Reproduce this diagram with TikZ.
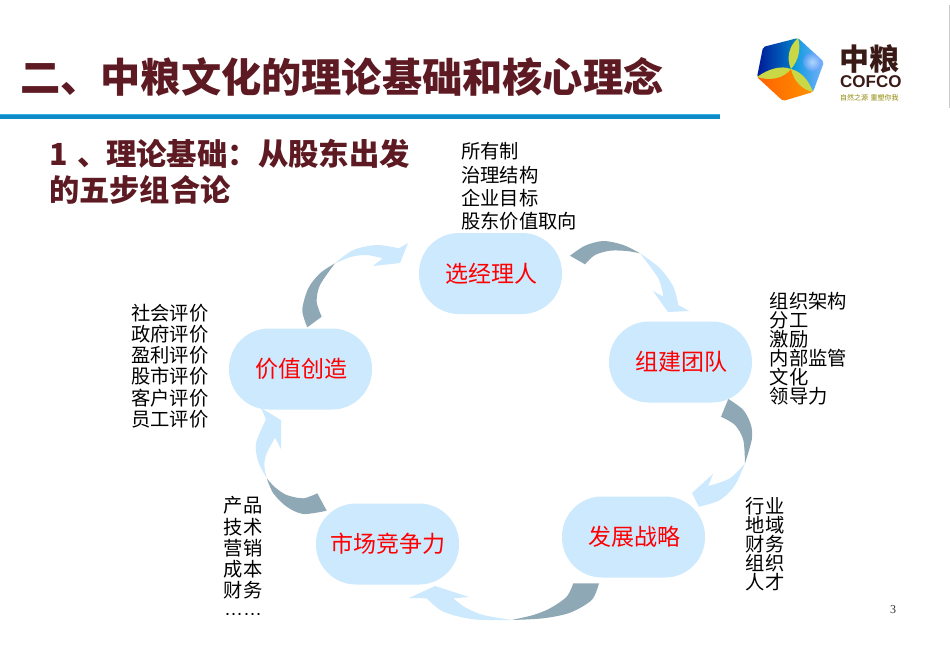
\documentclass[tikz,border=0pt]{standalone}
\usepackage{fontspec}
\setmainfont{Liberation Serif}
\newfontfamily\cjk{Noto Sans CJK SC}
\newfontfamily\lat{Liberation Sans}
\definecolor{titlered}{HTML}{5E1A22}
\definecolor{barblue}{HTML}{0F8CC8}
\definecolor{barlight}{HTML}{35B0E4}
\definecolor{pale}{HTML}{CDE9FE}
\definecolor{slate}{HTML}{8FA8B6}
\definecolor{logobrown}{HTML}{3A1A16}
\definecolor{leaf}{HTML}{C9D844}
\tikzset{
  x=1pt,y=-1pt,
  stage/.style={fill=pale,rounded corners=40pt,minimum width=143pt,minimum height=81pt,inner sep=0pt,outer sep=0pt,text=red,font=\cjk\fontsize{23}{23}\selectfont},
  itemlist/.style={anchor=west,inner sep=0pt,font=\cjk\fontsize{19.3}{19}\selectfont,text=black},
  grayarc/.style={fill=slate,draw=none},
  palearc/.style={fill=pale,draw=none},
  leafshape/.style={fill=leaf,draw=none},
}
\begin{document}
\begin{tikzpicture}
\useasboundingbox (0,0) rectangle (950,658);
\fill[white] (0,0) rectangle (950,658);
% title
\node[anchor=west,inner sep=0pt,text=titlered,font=\cjk\bfseries\fontsize{40.2}{40}\selectfont] (title) at (20,77) {二、中粮文化的理论基础和核心理念};
\fill[barblue] (0,114) rectangle (720,119);
\fill[barlight] (0,114) rectangle (720,115);
\draw[black!20,line width=1pt] (949,5) -- (949,108);
% subtitle
\node[anchor=west,inner sep=0pt,text=titlered,font=\cjk\bfseries\fontsize{30.4}{30}\selectfont] (subA) at (49,154) {1\hspace{10pt}、\hspace{-2pt}理论基础：从股东出发};
\node[anchor=west,inner sep=0pt,text=titlered,font=\cjk\bfseries\fontsize{30.2}{30}\selectfont] (subB) at (49,190) {的五步组合论};
% stages
\node[stage] (xuan) at (490.5,273.5) {\hspace{1pt}选经理人};
\node[stage] (zu) at (680.5,362) {\hspace{1pt}组建团队};
\node[stage] (fa) at (633.5,537) {\hspace{1pt}发展战略};
\node[stage] (shi) at (387.5,544) {\hspace{1pt}市场竞争力};
\node[stage] (jia) at (300.5,369) {\hspace{1pt}价值创造};
% arrow: xuan to zu
\fill[palearc] plot[smooth] coordinates {(640,253.3) (660,268.3) (673.3,286.7) (678.3,305)} -- (689,311) -- (668,312) -- (653,291) -- plot[smooth] coordinates {(663.3,296.7) (658.3,278.3) (640,253.3)} -- cycle;
\fill[grayarc] plot[smooth] coordinates {(570,255.7) (585,245.7) (603.3,241) (623.3,245) (640,253.3)} -- plot[smooth] coordinates {(640,253.3) (626.7,251) (610,250.7) (595,255) (585,264.3)} -- cycle;
% arrow: zu to fa
\fill[palearc] plot[smooth] coordinates {(745,463.3) (730,478.3) (708.3,486)} -- (713,474) -- (692,493) -- plot[smooth] coordinates {(699,506.7) (720,500) (735,485) (745,463.3)} -- cycle;
\fill[grayarc] plot[smooth] coordinates {(728.3,399) (743.3,410) (751,425) (751.7,440) (745,463.3)} -- plot[smooth] coordinates {(745,463.3) (743.3,440) (735,425) (721,416.7)} -- cycle;
% arrow: fa to shi
\fill[palearc] plot[smooth] coordinates {(511.7,620) (483.3,615) (465,607.3) (453.3,598.3)} -- (469,597) -- (435,586) -- (409,598) -- plot[smooth] coordinates {(426.7,598.3) (443.3,611.7) (473.3,619.3) (511.7,620)} -- cycle;
\fill[grayarc] plot[smooth] coordinates {(599,583.3) (591.7,600) (570,612.7) (543.3,618.3) (511.7,620)} -- plot[smooth] coordinates {(511.7,620) (533.3,615) (550,608.3) (566.7,596.7) (573.3,583.3)} -- cycle;
% arrow: shi to jia
\fill[palearc] plot[smooth] coordinates {(266.7,478.3) (258.3,461.7) (256,443.3) (266,419.3)} -- (261,408) -- (281,420) -- (281,449) -- plot[smooth] coordinates {(275,437.7) (266.7,453.3) (264.3,465) (266.7,478.3)} -- cycle;
\fill[grayarc] plot[smooth] coordinates {(326.7,510.7) (303.3,514) (286.7,506.7) (273.3,493.3) (266.7,478.3)} -- plot[smooth] coordinates {(266.7,478.3) (275,487.3) (286.7,495) (303.3,498.3) (317.3,493.3)} -- cycle;
% arrow: jia to xuan
\fill[palearc] plot[smooth] coordinates {(335,263.3) (353.3,250) (376.7,245) (399,248.3)} -- (408,243) -- (400,263) -- (373,266) -- plot[smooth] coordinates {(382.7,258.3) (366.7,255) (351.7,256.7) (335,263.3)} -- cycle;
\fill[grayarc] plot[smooth] coordinates {(307.3,327.3) (302.3,310) (308.3,288.3) (320,273.3) (335,263.3)} -- plot[smooth] coordinates {(335,263.3) (320,285) (316.7,301.7) (321.7,316.7)} -- cycle;
% lists
\foreach \n/\y/\t in {a/151/所有制,b/175/治理结构,c/198/企业目标,d/221/股东价值取向}
  \node[itemlist] (top\n) at (461,\y) {\t};
\foreach \n/\y/\t in {a/301/组织架构,b/320/分工,c/339/激励,d/358/内部监管,e/377/文化,f/396/领导力}
  \node[itemlist] (rt\n) at (769.5,\y) {\t};
\foreach \n/\y/\t in {a/313/社会评价,b/334/政府评价,c/355/盈利评价,d/376/股市评价,e/398/客户评价,f/419/员工评价}
  \node[itemlist] (lf\n) at (131,\y) {\t};
\foreach \n/\y/\t in {a/505/产品,b/527/技术,c/548/营销,d/569/成本,e/590/财务}
  \node[itemlist] (ll\n) at (223.5,\y) {\t};
\node[itemlist,font=\lat\fontsize{19}{19}\selectfont] (llf) at (224,614) {……};
\foreach \n/\y/\t in {a/506/行业,b/525/地域,c/544/财务,d/563/组织,e/582/人才}
  \node[itemlist] (lr\n) at (745.5,\y) {\t};
\node[inner sep=0pt,font=\fontsize{12}{12}\selectfont,text=black!80] (pg) at (893,610) {3};
% logo
\begin{scope}
\clip[rounded corners=2pt] (798,38) -- (824,62) -- (813,92) -- (783,101) -- (757,77) -- (763,47) -- cycle;
\shade[left color=blue!55!black!90!cyan,right color=blue!35!cyan!80!black] (757,36) rectangle (798,78);
\path[shade,left color=blue!30!cyan!85!black,right color=cyan!40!blue!50!white] (791,69) -- (798,36) -- (826,60) -- (815,94) -- cycle;
\shade[inner color=white,outer color=cyan!30!blue!55!white,opacity=0.55] (812,62) circle (9pt);
\path[shade,left color=red!25!orange,right color=orange!85!yellow] (755,77) -- (791,69) -- (815,93) -- (783,103) -- cycle;
\end{scope}
\fill[leafshape] (791,69) .. controls (786,58) and (789,46) .. (798,38) .. controls (801,48) and (799,60) .. (791,69) -- cycle;
\fill[leafshape] (791,69) .. controls (781,65) and (768,69) .. (757,77) .. controls (770,81) and (783,79) .. (791,69) -- cycle;
\fill[leafshape] (791,69) .. controls (802,72) and (809,81) .. (813,92) .. controls (803,90) and (794,82) .. (791,69) -- cycle;
\node[anchor=west,inner sep=0pt,text=logobrown,font=\cjk\bfseries\fontsize{30}{30}\selectfont] (zl) at (839,59) {中粮};
\node[anchor=west,inner sep=0pt,text=logobrown,font=\lat\bfseries\fontsize{17}{17}\selectfont] (cof) at (840,82) {COFCO};
\node[anchor=west,inner sep=0pt,text=olive,font=\cjk\fontsize{7}{7}\selectfont] (tag) at (840,98) {自然之源\,\,重塑你我};
\end{tikzpicture}
\end{document}
